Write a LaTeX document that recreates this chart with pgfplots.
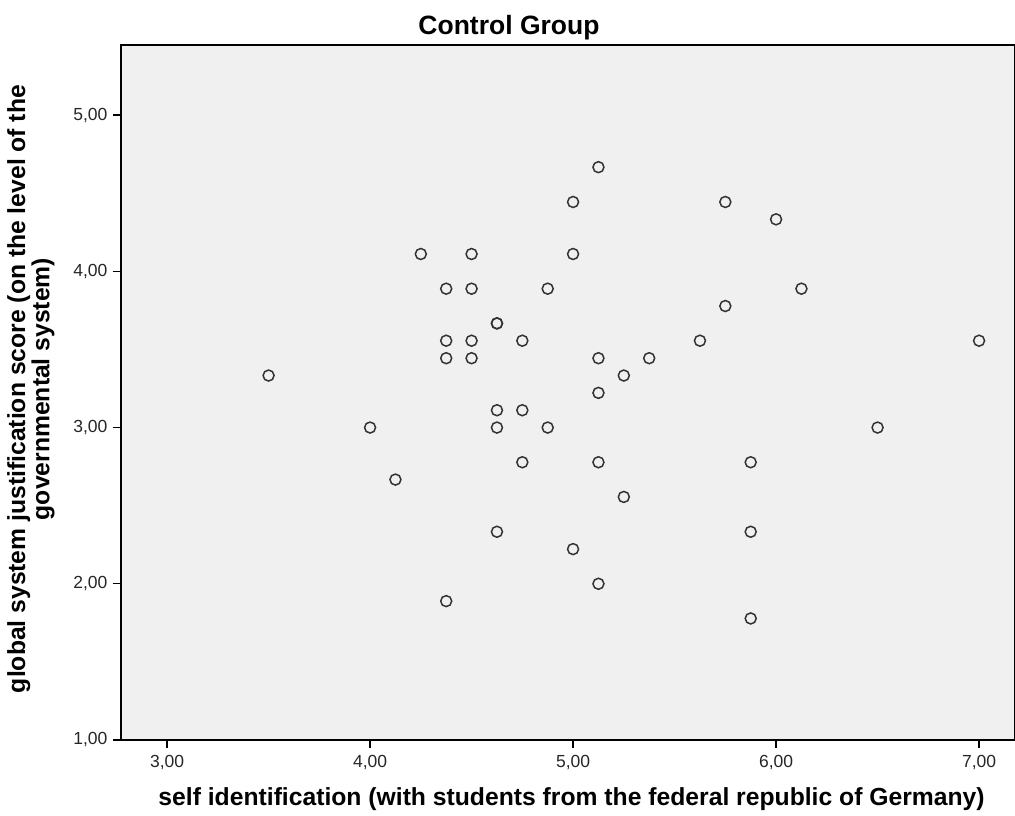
\documentclass[border=0pt]{standalone}
\usepackage{pgfplots}
\pgfplotsset{compat=1.18}
\usepackage{fontspec}
\setmainfont{Liberation Sans}
\definecolor{bgc}{HTML}{F0F0F0}
\definecolor{mk}{HTML}{333333}
\begin{document}
\begin{tikzpicture}
\begin{axis}[
  name=ax,
  scale only axis,
  width=894pt, height=695pt,
  xmin=2.773, xmax=7.177,
  ymin=1, ymax=5.449,
  xtick={3,4,5,6,7}, ytick={1,2,3,4,5},
  tick pos=left, tick align=outside,
  major tick length=8pt,
  every tick/.style={black, line width=1.3pt},
  axis line style={black, line width=1.3pt},
  axis background/.style={fill=bgc},
  /pgf/number format/.cd, fixed, fixed zerofill, precision=2, use comma, assume math mode=true,
  /pgfplots/.cd,
  tick label style={font=\fontsize{17.5}{20}\selectfont, text=black!85},
  xticklabel style={yshift=-4pt},
  yticklabel style={xshift=-2pt},
  title={Control Group},
  title style={font=\fontsize{26.5}{30}\bfseries\selectfont, at={(axis description cs:0.434,1.017)}, anchor=center},
  xlabel={self identification (with students from the federal republic of Germany)},
  xlabel style={font=\fontsize{24.7}{28}\bfseries\selectfont, at={(axis description cs:0.504,-0.0853)}, anchor=center},
  ylabel={global system justification score (on the level of the\\governmental system)},
  ylabel style={font=\fontsize{24.7}{22.5}\bfseries\selectfont, align=center, at={(axis description cs:-0.1007,0.505)}, anchor=center, rotate=0},
]
\addplot[only marks, mark=o, mark size=5.5pt, mark options={draw=mk, line width=1.5pt}] coordinates {
(3.5,3.333) (4.0,3.0) (4.125,2.667) (4.25,4.111)
(4.375,3.889) (4.375,3.556) (4.375,3.444) (4.375,1.889)
(4.5,4.111) (4.5,3.889) (4.5,3.556) (4.5,3.444)
(4.625,3.667) (4.625,3.667) (4.625,3.111) (4.625,3.0) (4.625,2.333)
(4.75,3.556) (4.75,3.111) (4.75,2.778)
(4.875,3.889) (4.875,3.0)
(5.0,4.444) (5.0,4.111) (5.0,2.222)
(5.125,4.667) (5.125,3.444) (5.125,3.222) (5.125,2.778) (5.125,2.0)
(5.25,3.333) (5.25,2.556) (5.375,3.444)
(5.625,3.556) (5.75,4.444) (5.75,3.778)
(5.875,2.778) (5.875,2.333) (5.875,1.778)
(6.0,4.333) (6.125,3.889) (6.5,3.0) (7.0,3.556)
};
\end{axis}
\pgfresetboundingbox
\path[use as bounding box] ([xshift=-121pt,yshift=-76pt]ax.south west) rectangle ([yshift=45pt]ax.north east);
\end{tikzpicture}
\end{document}
